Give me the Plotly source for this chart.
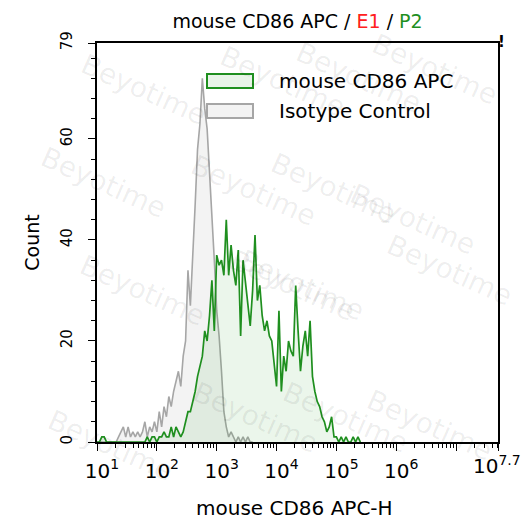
import plotly.graph_objects as go

# ---- data (log10 channel positions, counts) ----
log_step = 0.04
iso_start = 1.00
iso_counts = [0, 0, 0, 0, 0, 0, 0, 0, 0, 1, 2, 3, 1, 3, 1, 2, 1, 2, 1, 2,
              4, 1, 3, 2, 4, 2, 6, 3, 7, 5, 9, 7, 10, 12, 14, 11, 17, 20, 34, 27,
              36, 47, 58, 63, 72, 66, 62, 54, 46, 36, 26, 21, 14, 6, 3, 1, 2, 1, 0, 1,
              0, 1, 0, 1, 0, 0]
cd86_start = 1.00
cd86_counts = [0, 0, 1, 1, 0, 0, 0, 0, 0, 0, 0, 0, 0, 0, 0, 0, 0, 0, 0, 0,
               0, 1, 0, 1, 1, 0, 1, 1, 2, 1, 1, 3, 1, 3, 2, 1, 2, 4, 6, 6,
               8, 10, 13, 15, 17, 22, 20, 25, 32, 22, 37, 35, 36, 33, 44, 33, 39, 34, 31, 38,
               21, 36, 32, 28, 23, 30, 41, 28, 31, 25, 22, 24, 21, 20, 15, 11, 26, 10, 17, 14,
               20, 18, 17, 31, 22, 14, 19, 22, 17, 24, 13, 10, 8, 7, 5, 4, 2, 3, 5, 1,
               1, 0, 1, 0, 1, 0, 0, 1, 0, 1, 0]

series_names = ["mouse CD86 APC", "Isotype Control"]
x_tick_exps = [1, 2, 3, 4, 5, 6, 7, 7.7]
x_tick_text = ["10<sup>1</sup>", "10<sup>2</sup>", "10<sup>3</sup>", "10<sup>4</sup>",
               "10<sup>5</sup>", "10<sup>6</sup>", "", ""]
x_end_label = "10<sup>7.7</sup>"
x_title = "mouse CD86 APC-H"
y_ticks = [0, 20, 40, 60, 79]
watermark = "Beyotime"

iso_x = [10 ** (iso_start + i * log_step) for i in range(len(iso_counts))]
cd86_x = [10 ** (cd86_start + i * log_step) for i in range(len(cd86_counts))]

FONT = "DejaVu Sans, sans-serif"
GREEN = "#1f8f1f"
GRAY = "#a6a6a6"

W, H = 525, 521
L, R, T, B = 97, 27, 43, 79
PW, PH = W - L - R, H - T - B


def px(x):
    return (x - L) / PW


def py(y):
    return (H - B - y) / PH


fig = go.Figure()
fig.add_trace(go.Scatter(
    x=iso_x, y=iso_counts, mode="lines", name=series_names[1], showlegend=False,
    line=dict(color=GRAY, width=1.6),
    fill="tozeroy", fillcolor="rgba(215,215,215,0.30)",
))
fig.add_trace(go.Scatter(
    x=cd86_x, y=cd86_counts, mode="lines", name=series_names[0], showlegend=False,
    line=dict(color=GREEN, width=1.7),
    fill="tozeroy", fillcolor="rgba(30,150,30,0.09)",
))

minor_vals = [m * 10 ** d for d in range(1, 8) for m in range(2, 10) if m * 10 ** d < 10 ** 7.7]

fig.update_xaxes(
    type="log", range=[1, 7.7], automargin=False,
    tickvals=[10 ** e for e in x_tick_exps], ticktext=x_tick_text,
    ticks="outside", ticklen=7, tickwidth=1.3, tickcolor="black",
    minor=dict(tickmode="array", tickvals=minor_vals, ticks="outside", ticklen=4,
               tickwidth=1, tickcolor="black"),
    showline=True, linecolor="black", linewidth=1.5, mirror=True,
    showgrid=False, zeroline=False,
    ticklabelshift=5, ticklabelstandoff=3,
    tickfont=dict(family=FONT, size=20, color="black"),
)
fig.update_yaxes(
    range=[0, 79], tickvals=y_ticks, ticktext=[str(v) for v in y_ticks], automargin=False,
    tickangle=-90,
    ticks="outside", ticklen=7, tickwidth=1.3, tickcolor="black",
    minor=dict(dtick=4, tick0=0, ticks="outside", ticklen=4, tickwidth=1, tickcolor="black"),
    showline=True, linecolor="black", linewidth=1.5, mirror=True,
    showgrid=False, zeroline=False,
    ticklabelstandoff=10,
    tickfont=dict(family=FONT, size=15, color="black"),
    title=dict(text="Count", font=dict(family=FONT, size=19, color="black"), standoff=14),
)

# last x tick label, kept inside the page like the reference
fig.add_annotation(text=x_end_label, xref="paper", yref="paper", x=px(523), y=py(465),
                   xanchor="right", yanchor="middle", showarrow=False,
                   font=dict(family=FONT, size=20, color="black"))
fig.add_annotation(text=x_title, xref="paper", yref="paper", x=px(294), y=py(508),
                   xanchor="center", yanchor="middle", showarrow=False,
                   font=dict(family=FONT, size=20, color="black"))

# watermarks
wm_pos = [(73, 45), (212, 37), (358, 33), (505, 25),
          (33, 182), (183, 190), (333, 188), (483, 175),
          (72, 335), (222, 330), (372, 330), (520, 315),
          (40, 490), (185, 462), (345, 462), (500, 470)]
for (wx, wy) in wm_pos:
    fig.add_annotation(text=watermark, xref="paper", yref="paper",
                       x=px(wx), y=py(wy), showarrow=False, textangle=24,
                       font=dict(family=FONT, size=28, color="rgba(0,0,0,0.07)"))

# legend drawn as boxes + labels
legend_rows = [(81, GREEN, "rgba(30,150,30,0.10)"), (111, GRAY, "rgba(215,215,215,0.30)")]
for (ly, lc, lf), name in zip(legend_rows, series_names):
    fig.add_shape(type="rect", xref="paper", yref="paper",
                  x0=px(207), x1=px(253), y0=py(ly - 7), y1=py(ly + 7),
                  line=dict(color=lc, width=2), fillcolor=lf)
    fig.add_annotation(text=name, xref="paper", yref="paper", x=px(277), y=py(ly),
                       xanchor="left", yanchor="middle", showarrow=False,
                       font=dict(family=FONT, size=20, color="black"))

fig.add_annotation(text="<b>!</b>", xref="paper", yref="paper", x=px(507), y=py(31),
                   showarrow=False, font=dict(family=FONT, size=15, color="black"))

fig.update_layout(
    width=W, height=H,
    margin=dict(l=L, r=R, t=T, b=B),
    paper_bgcolor="white", plot_bgcolor="white",
    title=dict(
        text="mouse CD86 APC / <span style='color:#ff2020'>E1</span> / <span style='color:#1f8f1f'>P2</span>",
        x=0.5, xref="paper", xanchor="center", y=1 - 21 / H, yanchor="middle",
        font=dict(family=FONT, size=19, color="black"),
    ),
    showlegend=False,
)

fig.write_html("out.html", config={"displayModeBar": False},
               post_script="document.body.style.margin='0';")
